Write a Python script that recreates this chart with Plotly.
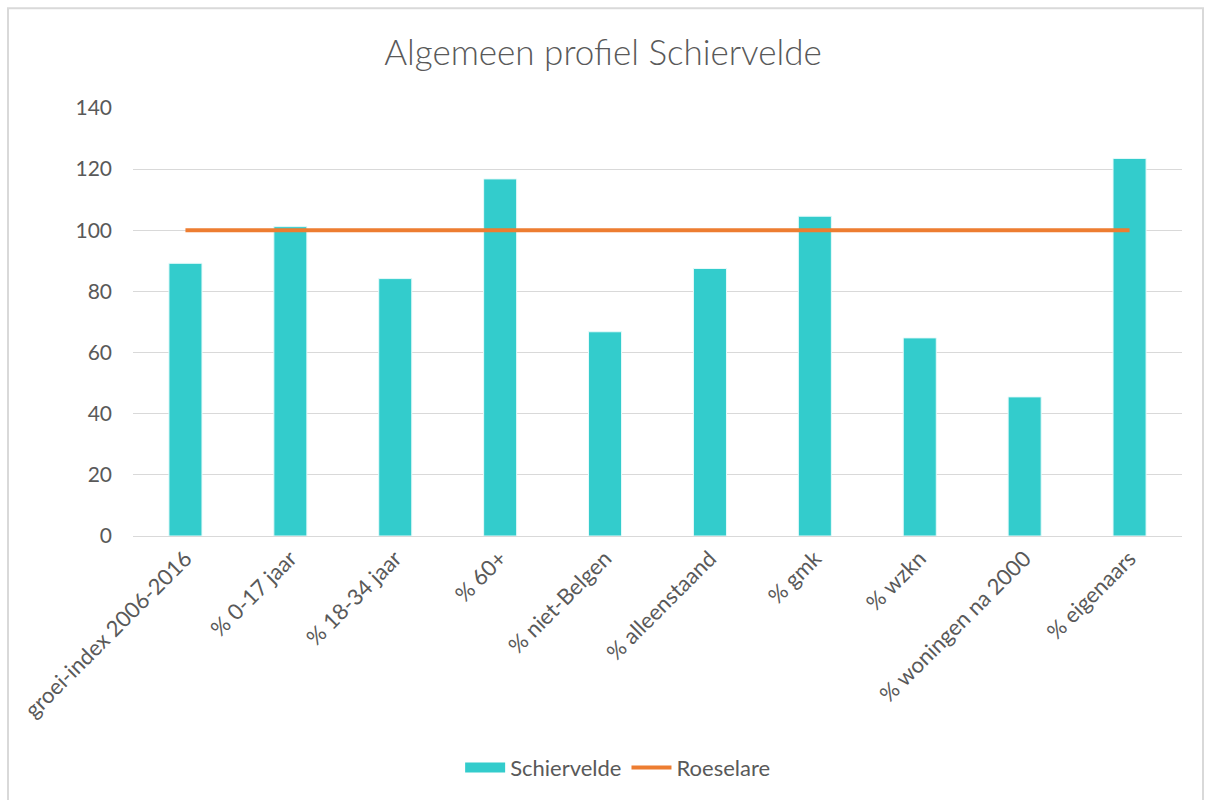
import plotly.graph_objects as go

categories = ["groei-index 2006-2016", "% 0-17 jaar", "% 18-34 jaar", "% 60+",
              "% niet-Belgen", "% alleenstaand", "% gmk", "% wzkn",
              "% woningen na 2000", "% eigenaars"]
schiervelde = [89.2, 101.2, 84.2, 116.8, 66.8, 87.5, 104.6, 64.8, 45.5, 123.5]
roeselare = [100] * 10
y_ticks = [0, 20, 40, 60, 80, 100, 120, 140]

FONT = "Lato"
GREY = "#595959"
TEAL = "#33CCCC"
ORANGE = "#ED7D31"

fig = go.Figure()
fig.add_trace(go.Bar(x=categories, y=schiervelde, name="Schiervelde", showlegend=False,
                     marker=dict(color=TEAL, line=dict(color="#E6FAFA", width=1))))
# legend-only entry to get the wide rectangular swatch
fig.add_trace(go.Scatter(x=[None], y=[None], name="Schiervelde", mode="lines",
                         line=dict(color=TEAL, width=14)))
fig.add_trace(go.Scatter(x=categories, y=roeselare, name="Roeselare", mode="lines",
                         line=dict(color=ORANGE, width=4)))

fig.update_layout(
    width=1206, height=800,
    margin=dict(l=133, r=24, t=108, b=263),
    paper_bgcolor="white", plot_bgcolor="white",
    font=dict(family=FONT, color=GREY, size=20),
    title=dict(text="Algemeen profiel Schiervelde", x=0.5, xanchor="center",
               y=1 - 53 / 800, yanchor="middle",
               font=dict(family=FONT, size=35, color=GREY, weight=300)),
    bargap=0.685,
    showlegend=True,
    legend=dict(orientation="h", x=0.462, xanchor="center", y=-0.538, yanchor="middle",
                font=dict(size=22, color=GREY), tracegroupgap=0, itemwidth=40),
    xaxis=dict(tickangle=-45, showgrid=False, showline=True, linecolor="#D9D9D9",
               ticks="", tickfont=dict(size=22, color=GREY)),
    yaxis=dict(range=[0, 140], tickvals=y_ticks, showgrid=True, gridcolor="#D9D9D9",
               gridwidth=1, zeroline=False, showline=False, ticks="",
               ticklabelstandoff=20, tickfont=dict(size=21, color=GREY)),
    shapes=[dict(type="rect", xref="paper", yref="paper",
                 x0=(8 - 133) / 1049, x1=(1203 - 133) / 1049,
                 y0=(537 - 805) / 429, y1=1 + (108 - 8) / 429,
                 line=dict(color="#D9D9D9", width=2), fillcolor="rgba(0,0,0,0)",
                 layer="below")],
)

fig.write_html("out.html", config={"displayModeBar": False},
               post_script="document.body.style.margin='0';document.body.style.overflow='hidden';")
